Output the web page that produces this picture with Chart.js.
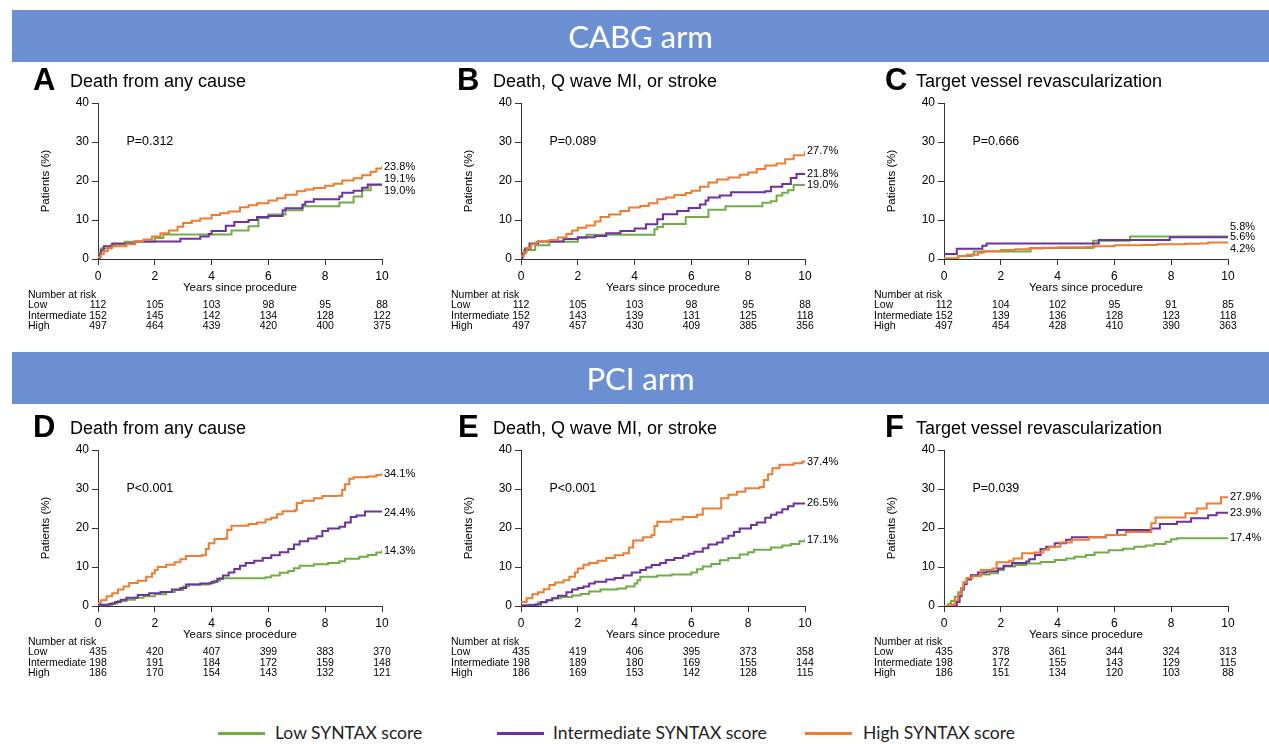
<!DOCTYPE html>
<html>
<head>
<meta charset="utf-8">
<script src="https://cdn.jsdelivr.net/npm/chart.js@4.4.0/dist/chart.umd.min.js"></script>
<style>
  body { margin: 0; width: 1269px; height: 744px; background: #fff; position: relative; overflow: hidden; }
  .banner { position: absolute; left: 12px; width: 1257px; height: 52px; background: #6b8fd1; color: #fff;
            font-family: Lato, "Open Sans", sans-serif; font-size: 31px; text-align: center; line-height: 52px; }
  canvas { position: absolute; }
  .lg-line { position: absolute; top: 732px; width: 47px; height: 3px; }
  .lg-text { position: absolute; top: 722px; line-height: 22px; font-family: Lato, "Open Sans", sans-serif; font-size: 17.5px; color: #222; }
</style>
</head>
<body>
<div class="banner" style="top:10px">CABG arm</div>
<div class="banner" style="top:352px">PCI arm</div>

<div class="lg-line" style="left:218px;background:#70ad47"></div>
<div class="lg-text" style="left:275px">Low SYNTAX score</div>
<div class="lg-line" style="left:497px;background:#7030a0"></div>
<div class="lg-text" style="left:553px">Intermediate SYNTAX score</div>
<div class="lg-line" style="left:805px;background:#ed7d31"></div>
<div class="lg-text" style="left:863px">High SYNTAX score</div>

<script>
// ---- data (years, cumulative %) ----
const groups = ['Low', 'Intermediate', 'High'];
const colors = ['#70ad47', '#7030a0', '#ed7d31'];
const xTicks = [0, 2, 4, 6, 8, 10];

// A: CABG, death from any cause
const aLow = [[0,0],[0.05,1.5],[0.1,2.7],[0.45,3.5],[0.6,3.8],[0.95,4.4],[2.0,5.4],[2.3,6.3],[4.7,7.3],[5.3,8.4],[5.65,10.5],[6.0,11.4],[6.6,12.5],[7.2,13.5],[8.5,14.5],[9.0,16.0],[9.3,17.6],[9.6,19.0],[10,19.0]];
const aInt = [[0,0],[0.05,1.2],[0.1,2.2],[0.2,3.3],[0.5,4.0],[1.3,4.5],[2.9,5.2],[3.6,5.8],[3.9,6.4],[4.0,7.2],[4.5,8.5],[4.8,9.5],[5.3,10.0],[5.6,10.8],[6.0,11.0],[6.5,12.5],[6.6,13.0],[7.2,14.0],[7.3,14.7],[7.6,15.3],[8.5,16.0],[8.6,17.0],[9.0,17.5],[9.3,18.3],[9.5,19.1],[10,19.1]];
const aHigh = [[0,0.5],[0.1,1.2],[0.2,2.0],[0.35,2.8],[0.5,3.3],[1.0,3.8],[1.3,4.5],[1.6,5.0],[1.9,5.8],[2.2,6.6],[2.5,7.3],[2.8,8.3],[3.0,9.2],[3.3,9.8],[3.6,10.4],[4.0,11.3],[4.3,11.7],[4.6,12.2],[5.0,13.3],[5.3,13.8],[5.6,14.3],[6.0,15.0],[6.3,15.6],[6.6,16.5],[7.0,17.4],[7.3,17.8],[7.6,18.2],[8.0,18.8],[8.3,19.3],[8.6,20.1],[9.0,20.7],[9.3,21.5],[9.6,22.4],[9.8,23.2],[10,23.8]];
const riskA = [[112,105,103,98,95,88],[152,145,142,134,128,122],[497,464,439,420,400,375]];

// B: CABG, death / Q wave MI / stroke
const bLow = [[0,0],[0.05,1.5],[0.1,2.3],[0.5,3.5],[1.0,4.4],[2.0,5.4],[2.3,6.2],[4.7,7.6],[4.8,8.2],[5.0,9.0],[5.8,10.8],[6.6,12.6],[7.2,13.5],[8.5,14.4],[8.8,14.8],[9.0,16.3],[9.2,17.0],[9.4,17.6],[9.6,19.0],[10,19.0]];
const bInt = [[0,0],[0.05,1.5],[0.15,2.7],[0.3,4.0],[0.6,4.5],[1.5,5.1],[2.0,5.6],[2.6,5.9],[3.0,6.6],[3.5,7.2],[4.0,7.8],[4.4,8.9],[4.8,10.2],[5.0,11.5],[5.5,12.3],[5.9,13.1],[6.3,14.0],[6.5,15.0],[6.6,15.8],[7.0,16.3],[7.4,17.1],[8.6,17.4],[8.8,18.5],[9.2,19.2],[9.5,20.8],[9.7,21.8],[10,21.8]];
const bHigh = [[0,0.8],[0.1,1.8],[0.2,2.8],[0.35,3.8],[0.55,4.4],[1.0,4.9],[1.3,5.5],[1.6,6.4],[1.8,7.3],[2.0,8.0],[2.3,8.6],[2.6,9.6],[2.8,10.8],[3.1,11.4],[3.5,12.3],[3.8,13.2],[4.2,13.6],[4.5,14.3],[4.8,15.3],[5.1,15.8],[5.4,16.4],[5.8,16.9],[6.0,17.5],[6.3,18.5],[6.6,19.6],[6.9,20.4],[7.3,20.9],[7.7,21.6],[8.0,22.2],[8.3,23.1],[8.6,24.0],[9.0,24.5],[9.3,25.6],[9.6,26.6],[10,27.7]];
const riskB = [[112,105,103,98,95,88],[152,143,139,131,125,118],[497,457,430,409,385,356]];

// C: CABG, target vessel revascularization
const cLow = [[0,0],[0.5,0.8],[1.0,1.1],[1.05,1.9],[3.05,2.8],[5.25,4.7],[6.55,5.8],[10,5.8]];
const cInt = [[0,1.3],[0.45,2.6],[1.35,3.4],[1.5,4.0],[5.45,4.9],[7.95,5.6],[10,5.6]];
const cHigh = [[0,0.2],[0.5,0.7],[0.8,1.1],[1.2,1.6],[1.4,2.0],[2.0,2.3],[2.5,2.5],[3.0,2.7],[3.5,2.9],[4.0,3.0],[5.0,3.1],[5.3,3.3],[6.0,3.5],[7.0,3.6],[7.5,3.8],[8.5,3.9],[9.0,4.0],[9.3,4.2],[10,4.2]];
const riskC = [[112,104,102,95,91,85],[152,139,136,128,123,118],[497,454,428,410,390,363]];

// D: PCI, death from any cause
const dLow = [[0,0],[0.3,0.3],[0.5,0.7],[0.7,1.3],[1.0,1.6],[1.3,2.1],[1.6,2.5],[2.0,3.0],[2.4,3.6],[2.7,4.1],[3.0,5.0],[3.2,5.5],[3.9,5.9],[4.1,6.5],[4.3,7.1],[5.9,7.4],[6.1,7.8],[6.4,8.5],[6.7,9.0],[6.9,9.7],[7.1,10.3],[7.6,10.7],[8.1,11.0],[8.5,11.5],[8.7,12.1],[9.2,12.6],[9.5,13.1],[9.8,13.7],[10,14.3]];
const dInt = [[0,0.3],[0.4,0.6],[0.6,1.0],[0.8,1.6],[1.0,2.1],[1.4,2.8],[1.8,3.3],[2.2,3.6],[2.6,4.2],[2.9,4.6],[3.1,5.5],[3.6,5.8],[4.0,6.2],[4.2,7.0],[4.4,7.8],[4.6,8.6],[4.8,9.5],[5.0,10.3],[5.2,11.0],[5.5,11.6],[5.8,12.3],[6.1,13.0],[6.4,13.8],[6.7,14.6],[6.9,15.8],[7.1,16.6],[7.4,17.3],[7.7,17.9],[7.9,19.2],[8.1,19.9],[8.5,20.3],[8.7,21.4],[8.9,22.8],[9.1,23.2],[9.4,24.2],[10,24.4]];
const dHigh = [[0,0.8],[0.1,1.5],[0.3,2.5],[0.5,3.3],[0.7,4.2],[0.9,5.0],[1.1,5.9],[1.4,6.5],[1.7,7.5],[1.9,8.4],[2.0,9.2],[2.1,10.0],[2.4,10.6],[2.7,11.2],[2.9,12.0],[3.1,12.8],[3.65,13.0],[3.8,14.6],[3.9,16.1],[4.1,17.2],[4.5,17.4],[4.55,19.5],[4.7,20.6],[5.3,21.0],[5.6,21.4],[5.9,22.2],[6.1,22.6],[6.3,23.5],[6.5,24.3],[6.95,24.6],[7.0,26.4],[7.2,27.0],[7.6,27.6],[7.9,28.2],[8.4,28.3],[8.6,29.8],[8.7,31.2],[8.85,32.6],[9.0,33.0],[9.5,33.2],[9.8,33.6],[10,34.1]];
const riskD = [[435,420,407,399,383,370],[198,191,184,172,159,148],[186,170,154,143,132,121]];

// E: PCI, death / Q wave MI / stroke
const eLow = [[0,0],[0.3,0.3],[0.6,0.9],[0.9,1.5],[1.1,2.0],[1.4,2.3],[1.8,2.7],[2.1,3.1],[2.4,3.7],[2.8,4.2],[3.4,4.5],[3.7,5.0],[4.0,5.8],[4.1,6.6],[4.2,7.5],[4.8,7.8],[5.3,8.1],[6.0,8.6],[6.2,9.4],[6.4,10.1],[6.7,10.8],[7.0,11.7],[7.3,12.3],[7.7,13.2],[8.0,13.8],[8.2,14.4],[8.8,15.0],[9.2,15.5],[9.5,15.9],[9.8,16.6],[10,17.1]];
const eInt = [[0,0.2],[0.5,0.4],[0.7,1.0],[0.9,1.5],[1.1,2.0],[1.3,2.6],[1.6,3.5],[1.8,4.2],[2.0,4.6],[2.2,5.0],[2.4,5.8],[2.6,6.2],[3.0,6.8],[3.3,7.2],[3.6,7.8],[3.9,8.6],[4.2,9.2],[4.4,9.9],[4.6,10.5],[4.9,11.0],[5.1,11.8],[5.4,12.3],[5.7,12.9],[5.9,13.4],[6.1,13.9],[6.4,14.8],[6.6,15.8],[6.9,16.3],[7.1,17.3],[7.3,18.0],[7.5,19.0],[7.7,19.9],[8.1,20.8],[8.3,21.4],[8.6,22.6],[8.8,23.4],[9.0,24.0],[9.2,24.8],[9.4,25.6],[9.6,26.3],[10,26.5]];
const eHigh = [[0,1.0],[0.2,2.0],[0.4,3.0],[0.6,3.5],[0.8,4.3],[1.0,5.4],[1.2,6.0],[1.5,6.6],[1.7,7.5],[1.9,8.6],[2.0,9.6],[2.2,10.6],[2.4,11.0],[2.7,11.6],[3.0,12.3],[3.3,13.0],[3.6,13.5],[3.8,15.0],[3.95,16.8],[4.3,17.6],[4.6,18.2],[4.7,20.5],[4.8,21.6],[5.3,22.2],[5.7,22.8],[6.2,23.4],[6.4,25.0],[7.0,25.0],[7.05,27.6],[7.3,28.5],[7.6,29.3],[7.9,30.2],[8.4,30.5],[8.55,32.3],[8.7,33.8],[8.85,35.3],[9.1,36.2],[9.6,36.6],[9.9,37.0],[10,37.4]];
const riskE = [[435,419,406,395,373,358],[198,189,180,169,155,144],[186,169,153,142,128,115]];

// F: PCI, target vessel revascularization
const fLow = [[0,0],[0.15,0.6],[0.25,1.3],[0.38,2.4],[0.5,3.5],[0.6,4.6],[0.7,6.0],[0.8,7.2],[0.95,7.8],[1.3,8.1],[1.6,8.4],[1.9,9.2],[2.1,10.1],[2.5,10.5],[2.9,10.9],[3.4,11.3],[3.9,11.8],[4.3,12.2],[4.6,12.6],[5.0,13.1],[5.3,13.7],[5.8,14.3],[6.3,14.7],[6.7,15.2],[7.1,15.5],[7.4,15.9],[7.8,16.5],[8.0,17.1],[8.2,17.4],[10,17.4]];
const fInt = [[0,0],[0.3,0.2],[0.45,1.0],[0.55,2.5],[0.62,4.2],[0.7,5.6],[0.8,6.8],[0.95,7.9],[1.2,8.6],[1.5,8.9],[1.9,9.6],[2.1,10.3],[2.4,11.0],[2.9,11.4],[3.0,12.0],[3.2,13.1],[3.4,14.6],[3.6,15.2],[3.9,16.1],[4.3,17.0],[4.5,17.6],[5.7,18.2],[6.1,19.5],[7.3,19.9],[7.6,21.0],[8.2,21.6],[8.7,22.5],[9.3,23.3],[9.6,23.9],[10,23.9]];
const fHigh = [[0,0],[0.25,0.3],[0.38,1.5],[0.5,3.0],[0.6,4.5],[0.68,6.0],[0.8,7.2],[1.0,7.6],[1.3,9.2],[1.7,9.6],[1.85,11.2],[2.3,11.6],[2.45,12.2],[2.75,13.5],[3.2,13.7],[3.5,14.4],[3.7,15.2],[4.1,16.3],[4.5,17.0],[5.1,17.6],[5.7,18.2],[6.4,19.0],[7.3,21.2],[7.45,22.7],[8.5,23.8],[8.9,25.0],[9.25,26.3],[9.75,27.9],[10,27.9]];
const riskF = [[435,378,361,344,324,313],[198,172,155,143,129,115],[186,151,134,120,103,88]];

// ---- panels (layout) ----
const fam = '"Liberation Sans", Arial, sans-serif';
const panels = [
  { letter: 'A', title: 'Death from any cause', pText: 'P=0.312', series: [aLow, aInt, aHigh], risk: riskA, labelY: [17.5, 20.5, 23.6], left: 0, top: 62, height: 290, chartTop: 41, xH: 93, letterDx: -65 },
  { letter: 'B', title: 'Death, Q wave MI, or stroke', pText: 'P=0.089', series: [bLow, bInt, bHigh], risk: riskB, labelY: [18.9, 21.8, 27.7], left: 423, top: 62, height: 290, chartTop: 41, xH: 93, letterDx: -64 },
  { letter: 'C', title: 'Target vessel revascularization', pText: 'P=0.666', series: [cLow, cInt, cHigh], risk: riskC, labelY: [8.3, 5.6, 2.7], left: 846, top: 62, height: 290, chartTop: 41, xH: 93, letterDx: -59 },
  { letter: 'D', title: 'Death from any cause', pText: 'P<0.001', series: [dLow, dInt, dHigh], risk: riskD, labelY: [14.2, 23.9, 33.8], left: 0, top: 403, height: 300, chartTop: 47, xH: 97, letterDx: -65 },
  { letter: 'E', title: 'Death, Q wave MI, or stroke', pText: 'P<0.001', series: [eLow, eInt, eHigh], risk: riskE, labelY: [16.9, 26.3, 36.9], left: 423, top: 403, height: 300, chartTop: 47, xH: 97, letterDx: -63 },
  { letter: 'F', title: 'Target vessel revascularization', pText: 'P=0.039', series: [fLow, fInt, fHigh], risk: riskF, labelY: [17.4, 23.8, 28.0], left: 846, top: 403, height: 300, chartTop: 47, xH: 97, letterDx: -59 }
];

function makeAnnot(p) {
  return {
    id: 'annot' + p.letter,
    afterDraw(chart) {
      const ctx = chart.ctx, a = chart.chartArea;
      const xs = chart.scales.x, ys = chart.scales.y;
      ctx.save();
      ctx.fillStyle = '#000';
      ctx.textAlign = 'left';
      ctx.textBaseline = 'alphabetic';
      ctx.font = 'bold 31px ' + fam;
      ctx.fillText(p.letter, a.left + p.letterDx, a.top - 13);
      ctx.font = '18px ' + fam;
      ctx.fillText(p.title, a.left - 28, a.top - 16);

      // y axis title
      ctx.save();
      ctx.translate(a.left - 52, (a.top + a.bottom) / 2);
      ctx.rotate(-Math.PI / 2);
      ctx.textAlign = 'center';
      ctx.textBaseline = 'middle';
      ctx.font = '11.5px ' + fam;
      ctx.fillText('Patients (%)', 0, 0);
      ctx.restore();

      ctx.textBaseline = 'middle';
      ctx.font = '12.5px ' + fam;
      ctx.fillText(p.pText, xs.getPixelForValue(1), ys.getPixelForValue(30));

      // end-of-curve labels
      ctx.font = '11px ' + fam;
      p.series.forEach((s, i) => {
        const last = s[s.length - 1][1];
        ctx.fillText(last.toFixed(1) + '%', a.right + 2, ys.getPixelForValue(p.labelY[i]));
      });

      ctx.textAlign = 'center';
      ctx.font = '11.5px ' + fam;
      ctx.fillText('Years since procedure', xs.getPixelForValue(5), a.bottom + 28.5);

      // number at risk
      ctx.font = '10.5px ' + fam;
      ctx.textAlign = 'left';
      ctx.fillText('Number at risk', a.left - 70, a.bottom + 36.5);
      groups.forEach((g, i) => {
        const y = a.bottom + 46.5 + i * 10.3;
        ctx.textAlign = 'left';
        ctx.fillText(g, a.left - 70, y);
        ctx.textAlign = 'center';
        p.risk[i].forEach((n, j) => ctx.fillText(String(n), xs.getPixelForValue(xTicks[j]), y));
      });
      ctx.restore();
    }
  };
}

panels.forEach(p => {
  const canvas = document.createElement('canvas');
  canvas.width = 423;
  canvas.height = p.height;
  canvas.style.left = p.left + 'px';
  canvas.style.top = p.top + 'px';
  document.body.appendChild(canvas);

  const axisGrid = { drawOnChartArea: false, drawTicks: true, tickLength: 6, color: '#333' };
  new Chart(canvas, {
    type: 'line',
    data: {
      datasets: p.series.map((s, i) => ({
        label: groups[i],
        data: s.map(pt => ({ x: pt[0], y: pt[1] })),
        borderColor: colors[i],
        borderWidth: 2,
        pointRadius: 0,
        stepped: true,
        fill: false,
        order: 3 - i
      }))
    },
    options: {
      responsive: false,
      animation: false,
      devicePixelRatio: 1,
      layout: { padding: { top: p.chartTop, right: 41, left: 0, bottom: 0 } },
      plugins: { legend: { display: false }, tooltip: { enabled: false } },
      scales: {
        x: {
          type: 'linear', min: 0, max: 10,
          ticks: { stepSize: 2, color: '#000', font: { size: 12, family: fam }, padding: 4, maxRotation: 0 },
          grid: axisGrid,
          border: { color: '#333', width: 1 },
          afterFit(s) { s.height = p.xH; }
        },
        y: {
          min: 0, max: 40,
          ticks: { stepSize: 10, color: '#000', font: { size: 12, family: fam }, padding: 3 },
          grid: axisGrid,
          border: { color: '#333', width: 1 },
          afterFit(s) { s.width = 98; }
        }
      }
    },
    plugins: [makeAnnot(p)]
  });
});
</script>
</body>
</html>
